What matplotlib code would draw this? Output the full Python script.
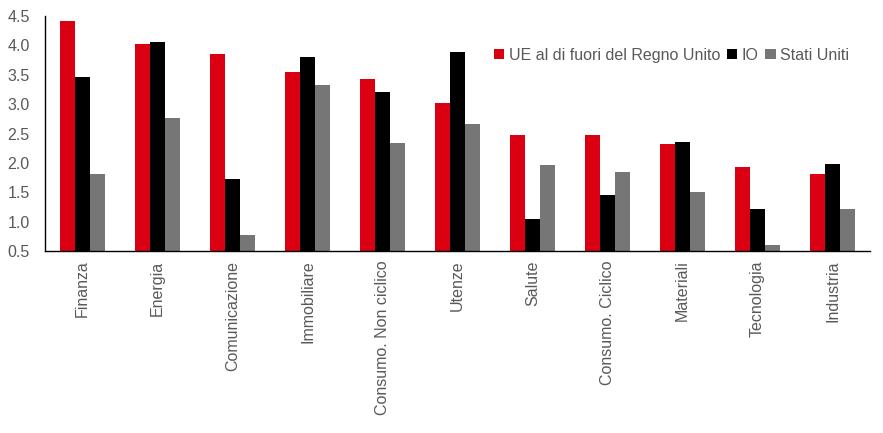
import matplotlib
matplotlib.use("Agg")
import matplotlib.pyplot as plt
import numpy as np

# Categories and series values
categories = ["Finanza", "Energia", "Comunicazione", "Immobiliare",
              "Consumo. Non ciclico", "Utenze", "Salute", "Consumo. Ciclico",
              "Materiali", "Tecnologia", "Industria"]
eu_ex_uk = [4.41, 4.03, 3.85, 3.54, 3.43, 3.02, 2.48, 2.48, 2.32, 1.93, 1.81]
io = [3.47, 4.05, 1.73, 3.81, 3.20, 3.88, 1.04, 1.45, 2.36, 1.21, 1.98]
usa = [1.81, 2.77, 0.77, 3.32, 2.34, 2.67, 1.96, 1.85, 1.50, 0.61, 1.21]
series_names = ["UE al di fuori del Regno Unito", "IO", "Stati Uniti"]
y_ticks = [0.5, 1.0, 1.5, 2.0, 2.5, 3.0, 3.5, 4.0, 4.5]

plt.rcParams['font.family'] = ['Liberation Sans', 'DejaVu Sans']
text_col = "#595959"

fig = plt.figure(figsize=(8.83, 4.33), dpi=100)
ax = fig.add_axes([45 / 883, 1 - 251 / 433, 825 / 883, 235 / 433])

x = np.arange(len(categories))
w = 0.2
ax.bar(x - w, eu_ex_uk, w, color="#DB0011", label=series_names[0])
ax.bar(x, io, w, color="#000000", label=series_names[1])
ax.bar(x + w, usa, w, color="#767676", label=series_names[2])

ax.set_xlim(-0.5, len(categories) - 0.5)
ax.set_ylim(0.5, 4.5)
ax.set_yticks(y_ticks)
ax.set_yticklabels([f"{v:.1f}" for v in y_ticks])
ax.set_xticks(x)
ax.set_xticklabels(categories, rotation=90)
ax.tick_params(axis="both", length=0, labelsize=11.5, colors=text_col, pad=7)
ax.tick_params(axis="y", pad=11)

for s in ["top", "right"]:
    ax.spines[s].set_visible(False)
for s in ["left", "bottom"]:
    ax.spines[s].set_color("black")
    ax.spines[s].set_linewidth(1)

leg = ax.legend(loc="center right", bbox_to_anchor=(0.975, 0.834), ncol=3,
                frameon=False, fontsize=11.5, handlelength=0.65, handleheight=0.65,
                handletextpad=0.3, columnspacing=0.4, borderaxespad=0, borderpad=0)
for t in leg.get_texts():
    t.set_color(text_col)

fig.savefig("out.png", dpi=100)
